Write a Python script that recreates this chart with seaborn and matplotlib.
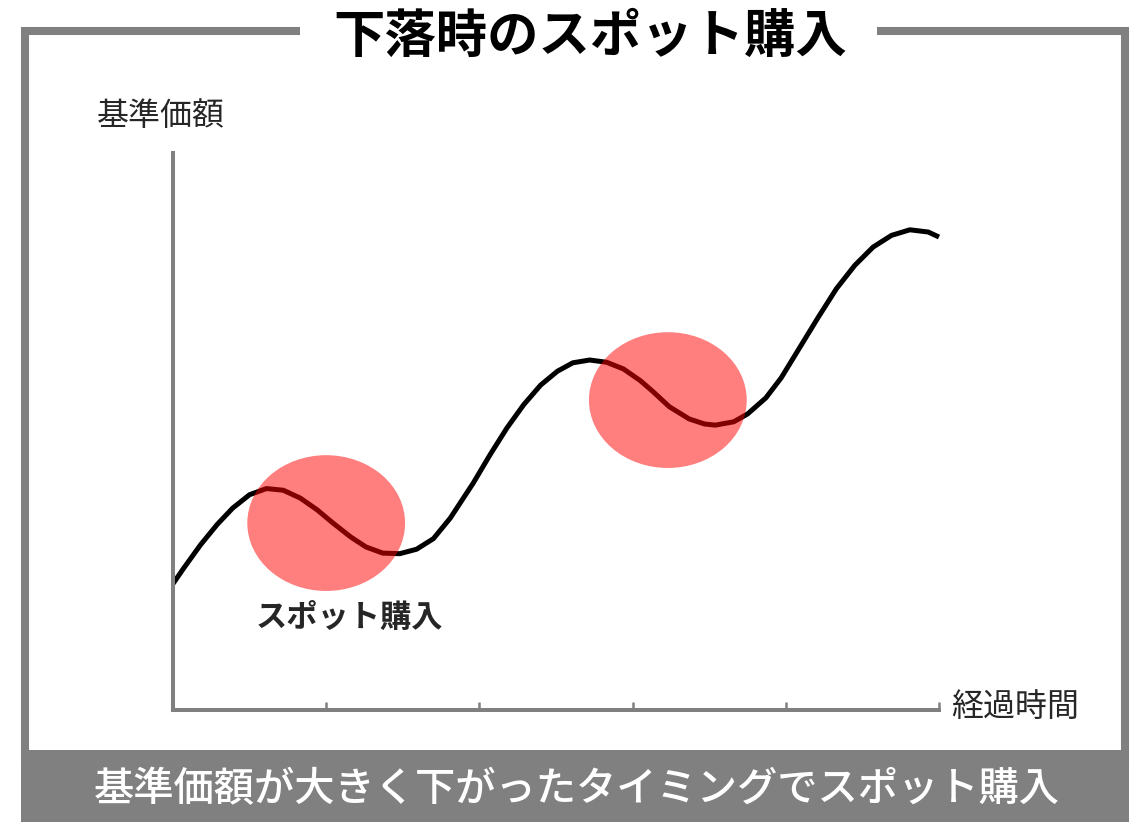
import matplotlib
matplotlib.use("Agg")
import matplotlib.pyplot as plt
import seaborn as sns
from matplotlib.patches import Ellipse, Rectangle

# curve (x in tick units, y in arbitrary price units)
time_vals = [0.00, 0.07, 0.18, 0.29, 0.39, 0.50, 0.61, 0.72, 0.83, 0.94,
             1.04, 1.16, 1.26, 1.37, 1.48, 1.59, 1.70, 1.81, 1.96,
             2.07, 2.18, 2.29, 2.40, 2.51, 2.61, 2.72, 2.83, 2.94, 3.05,
             3.13, 3.24, 3.37, 3.47, 3.54, 3.66, 3.75, 3.87, 3.97, 4.09,
             4.21, 4.33, 4.45, 4.57, 4.69, 4.81, 4.93, 5.00]
price_vals = [2.26, 2.54, 2.96, 3.33, 3.62, 3.86, 3.97, 3.94, 3.80, 3.59,
              3.36, 3.10, 2.92, 2.81, 2.80, 2.88, 3.07, 3.44, 4.07,
              4.58, 5.06, 5.48, 5.83, 6.08, 6.23, 6.28, 6.24, 6.12, 5.91,
              5.72, 5.44, 5.22, 5.13, 5.11, 5.17, 5.31, 5.60, 5.96, 6.50,
              7.04, 7.56, 7.98, 8.31, 8.52, 8.62, 8.58, 8.49]

# spot purchase zones
spot_x = [1.00, 3.23]
spot_y = [3.35, 5.56]

x_ticks = [1, 2, 3, 4, 5]

title = "下落時のスポット購入"
ylabel = "基準価額"
xlabel = "経過時間"
spot_label = "スポット購入"
banner = "基準価額が大きく下がったタイミングでスポット購入"

sns.set_style("white")
plt.rcParams['font.family'] = ['Noto Sans CJK JP', 'DejaVu Sans']

W, H = 1137, 822
GRAY = "#808080"
fig = plt.figure(figsize=(W / 100, H / 100), dpi=100)

def fx(px):
    return px / W

def fy(py):
    return 1 - py / H

# outer frame + title gap + bottom banner
fig.patches.append(Rectangle((fx(25), fy(760)), fx(1125) - fx(25), fy(31) - fy(760),
                             transform=fig.transFigure, fill=False,
                             edgecolor=GRAY, linewidth=5.8, zorder=0))
fig.patches.append(Rectangle((fx(300), fy(48)), fx(877) - fx(300), fy(15) - fy(48),
                             transform=fig.transFigure, facecolor="white",
                             edgecolor="none", zorder=1))
fig.patches.append(Rectangle((fx(21), 0), fx(1129) - fx(21), fy(750),
                             transform=fig.transFigure, facecolor=GRAY,
                             edgecolor="none", zorder=2))

fig.text(fx(590), fy(36), title, ha="center", va="center",
         fontsize=37, fontweight="bold", color="black")
fig.text(fx(577), fy(790), banner, ha="center", va="center",
         fontsize=29, fontweight="medium", color="white")
fig.text(fx(161), fy(116), ylabel, ha="center", va="center", fontsize=23)
fig.text(fx(1015), fy(707), xlabel, ha="center", va="center", fontsize=23)
fig.text(fx(349), fy(618), spot_label, ha="center", va="center",
         fontsize=22.5, fontweight="bold")

# plot area
ax = fig.add_axes([fx(173), fy(709.5), fx(939) - fx(173), fy(153) - fy(709.5)])
ax.set_facecolor("none")
sns.lineplot(x=time_vals, y=price_vals, ax=ax, color="black", linewidth=3.6)
for ln in ax.lines:
    ln.set_clip_on(False)
    ln.set_solid_joinstyle("round")
    ln.set_solid_capstyle("butt")

for sx, sy in zip(spot_x, spot_y):
    ax.add_patch(Ellipse((sx, sy), width=1.03, height=2.44,
                         facecolor=(1, 0, 0, 0.5), edgecolor="none", zorder=5))

ax.set_xlim(0, 5)
ax.set_ylim(0, 10)
ax.set_xticks(x_ticks)
ax.set_yticks([])
ax.tick_params(axis="x", which="major", bottom=True, direction="in", length=6,
               width=1.8, color=GRAY, labelbottom=False)
sns.despine(ax=ax, top=True, right=True)
for side in ["left", "bottom"]:
    ax.spines[side].set_color(GRAY)
    ax.spines[side].set_linewidth(2.9)

fig.savefig("out.png", dpi=100)
